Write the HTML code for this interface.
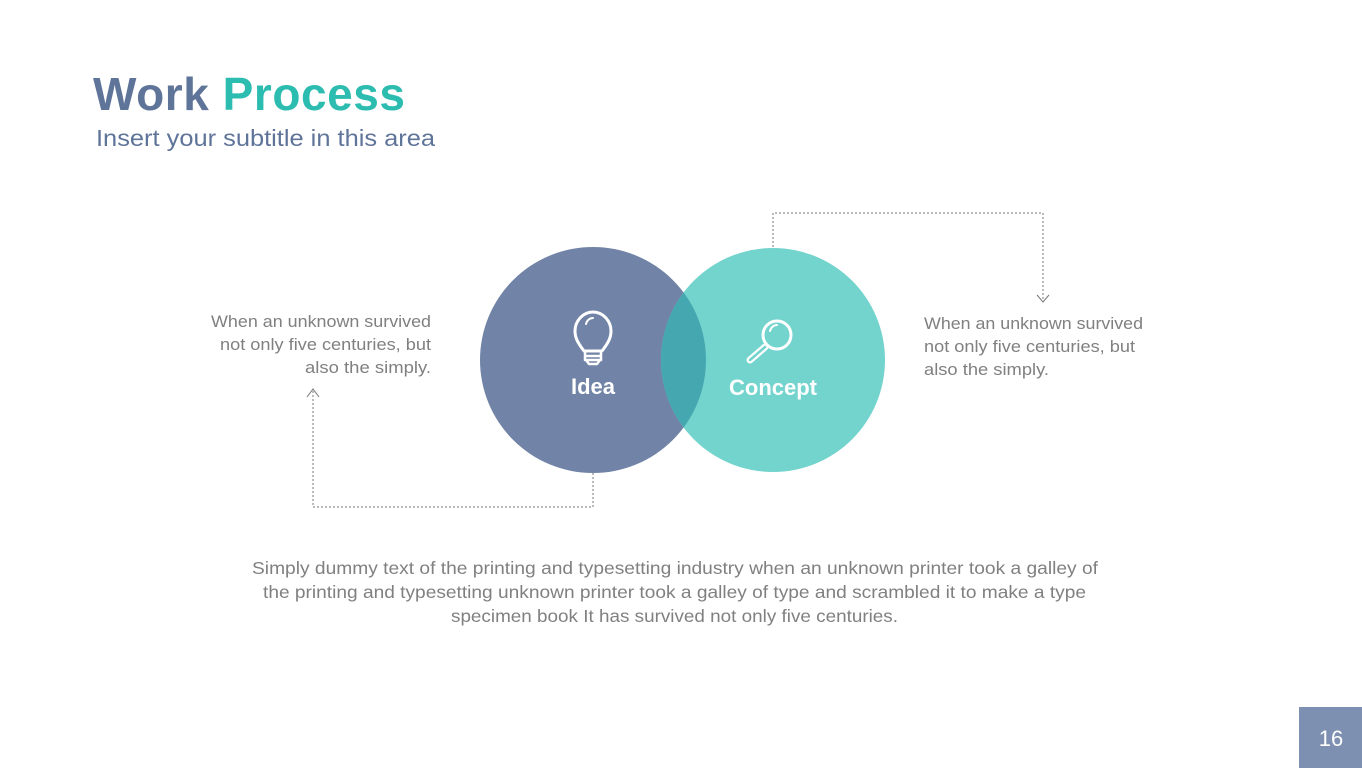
<!DOCTYPE html>
<html><head><meta charset="utf-8"><style>
html,body{margin:0;padding:0;background:#fff;width:1362px;height:768px;overflow:hidden}
svg{display:block;font-family:"Liberation Sans",sans-serif}
</style></head><body>
<svg width="1362" height="768" viewBox="0 0 1362 768" xmlns="http://www.w3.org/2000/svg">
<text x="93" y="110" font-size="46" font-weight="bold" fill="#5f7499" textLength="312" lengthAdjust="spacing">Work <tspan fill="#2dbcb0">Process</tspan></text>
<text x="96" y="146" font-size="23" fill="#5f7499" textLength="339" lengthAdjust="spacingAndGlyphs">Insert your subtitle in this area</text>

<g fill="none" stroke="#777" stroke-width="1" stroke-dasharray="2,2">
<path d="M593 473 V507 H313 V390"/>
<path d="M773 247 V213 H1043 V300"/>
</g>
<g fill="none" stroke="#777" stroke-width="1">
<path d="M307 397 L313 389 L319 397"/>
<path d="M1037 295 L1043 302 L1049 295"/>
</g>

<circle cx="593" cy="360" r="113" fill="#7183a6"/>
<circle cx="773" cy="360" r="112" fill="#73d3cd"/>
<clipPath id="c1"><circle cx="593" cy="360" r="113"/></clipPath>
<circle cx="773" cy="360" r="112" fill="#45a8b0" clip-path="url(#c1)"/>

<g fill="none" stroke="#fff" stroke-width="3" stroke-linecap="round" stroke-linejoin="round">
<path d="M584 351 C577 342 575 337 575 331 C575 321 583 312 593 312 C603 312 611 321 611 331 C611 337 609 342 602 351 Z"/>
<path d="M586 324 C587 320 590 318 593 318" stroke-width="2"/>
<path d="M585 351 L585 360 M601 351 L601 360 M586 356 L600 356 M586 360 L600 360 L597 364 L589 364 Z" stroke-width="2.5"/>
</g>
<g fill="none" stroke="#fff" stroke-linecap="round">
<circle cx="777" cy="335" r="14" stroke-width="3"/>
<path d="M770 331 C771 327 774 325 777 325" stroke-width="2"/>
<path d="M765 347 L750 360" stroke-width="7"/>
<path d="M765 347 L750 360" stroke-width="2.5" stroke="#73d3cd"/>
</g>

<text x="593" y="394" font-size="22" font-weight="bold" fill="#fff" text-anchor="middle">Idea</text>
<text x="773" y="395" font-size="22" font-weight="bold" fill="#fff" text-anchor="middle">Concept</text>

<g font-size="17" fill="#808080">
<text x="211" y="327" textLength="220" lengthAdjust="spacingAndGlyphs">When an unknown survived</text>
<text x="220" y="350" textLength="211" lengthAdjust="spacingAndGlyphs">not only five centuries, but</text>
<text x="305" y="373" textLength="126" lengthAdjust="spacingAndGlyphs">also the simply.</text>
<text x="924" y="329" textLength="219" lengthAdjust="spacingAndGlyphs">When an unknown survived</text>
<text x="924" y="352" textLength="211" lengthAdjust="spacingAndGlyphs">not only five centuries, but</text>
<text x="924" y="375" textLength="125" lengthAdjust="spacingAndGlyphs">also the simply.</text>
</g>
<g font-size="17.5" fill="#808080">
<text x="252" y="574" textLength="846" lengthAdjust="spacingAndGlyphs">Simply dummy text of the printing and typesetting industry when an unknown printer took a galley of</text>
<text x="263" y="598" textLength="823" lengthAdjust="spacingAndGlyphs">the printing and typesetting unknown printer took a galley of type and scrambled it to make a type</text>
<text x="451" y="622" textLength="447" lengthAdjust="spacingAndGlyphs">specimen book It has survived not only five centuries.</text>
</g>

<rect x="1299" y="707" width="63" height="61" fill="#7d90b2"/>
<text x="1331" y="746" font-size="22" fill="#fff" text-anchor="middle">16</text>
</svg>
</body></html>
